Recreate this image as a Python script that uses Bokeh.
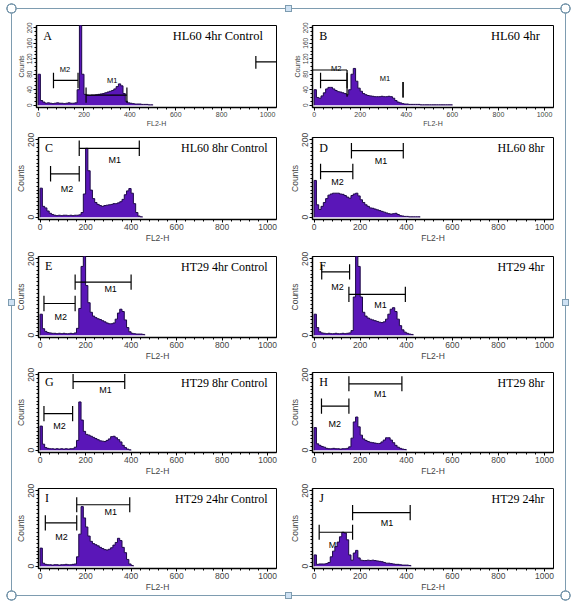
import numpy as np
from bokeh.plotting import figure
from bokeh.layouts import column, row
from bokeh.models import FixedTicker, Range1d
from bokeh.core.properties import value
from bokeh.embed import file_html
from bokeh.resources import INLINE

# ---------------- data ----------------
BIN_WIDTH = 10  # FL2-H channels per histogram bin

x_ticks = [0, 200, 400, 600, 800, 1000]
x_minor = [40, 80, 120, 160, 240, 280, 320, 360, 440, 480, 520, 560,
           640, 680, 720, 760, 840, 880, 920, 960, 1040]
y_ticks_fine = [0, 200]
y_ticks_coarse = [0, 40, 80, 120, 160, 200]
y_minor = [10, 20, 30, 40, 50, 60, 70, 80, 90, 100, 110, 120, 130, 140, 150, 160, 170, 180, 190]

letters = ["A", "B", "C", "D", "E", "F", "G", "H", "I", "J"]
titles = ["HL60 4hr Control", "HL60 4hr", "HL60 8hr Control", "HL60 8hr",
          "HT29 4hr Control", "HT29 4hr", "HT29 8hr Control", "HT29 8hr",
          "HT29 24hr Control", "HT29 24hr"]

counts_A = [80, 12, 8, 5, 6, 5, 4, 5, 6, 5, 5, 4, 5, 6, 5, 5, 6, 40, 240, 80,
            28, 26, 25, 26, 26, 27, 28, 29, 30, 32, 34, 36, 38, 42, 48, 55, 50, 30, 10, 6,
            5, 4, 3, 3, 3, 2, 2, 2, 1, 1]
counts_B = [40, 20, 18, 24, 32, 42, 46, 46, 42, 38, 35, 34, 32, 30, 27, 40, 80, 95, 62, 44,
            36, 30, 27, 25, 24, 23, 22, 22, 22, 23, 22, 22, 23, 22, 18, 12, 8, 6, 4, 3,
            3, 2, 2, 2, 2, 2, 1, 1, 1, 1, 1, 1, 1, 1, 1, 1, 1, 1, 1, 1]
counts_C = [75, 28, 24, 16, 10, 7, 5, 4, 5, 4, 5, 5, 4, 5, 4, 5, 5, 6, 12, 60,
            178, 120, 70, 48, 38, 33, 30, 28, 30, 31, 32, 33, 35, 35, 37, 40, 46, 58, 68, 74,
            62, 35, 12, 3, 1]
counts_D = [95, 32, 20, 28, 38, 48, 57, 60, 62, 62, 62, 60, 59, 56, 52, 49, 56, 60, 62, 55,
            45, 38, 32, 28, 24, 23, 21, 19, 17, 15, 13, 11, 9, 8, 9, 10, 7, 4, 3, 2,
            2, 1, 1, 1, 1, 1]
counts_E = [55, 17, 10, 7, 6, 5, 5, 4, 5, 4, 5, 4, 4, 5, 4, 6, 18, 70, 180, 215,
            130, 85, 60, 50, 46, 43, 41, 38, 35, 32, 30, 30, 32, 42, 58, 68, 62, 40, 20, 9,
            5, 4, 3, 3, 3, 2]
counts_F = [55, 20, 9, 6, 5, 4, 5, 4, 4, 5, 4, 4, 5, 4, 5, 6, 12, 100, 215, 180,
            100, 60, 50, 45, 42, 40, 38, 36, 34, 33, 35, 42, 55, 68, 72, 62, 42, 25, 14, 8,
            5, 3, 2]
counts_G = [64, 16, 7, 5, 4, 4, 3, 4, 3, 4, 3, 4, 3, 4, 4, 8, 26, 128, 80, 50,
            42, 40, 37, 34, 31, 28, 25, 24, 23, 26, 30, 36, 37, 33, 28, 22, 13, 7, 3, 1]
counts_H = [60, 17, 13, 10, 8, 5, 4, 4, 5, 4, 4, 3, 4, 4, 5, 9, 32, 75, 88, 62,
            40, 30, 26, 23, 21, 20, 19, 18, 18, 22, 27, 33, 33, 27, 20, 13, 8, 5, 3, 2]
counts_I = [48, 8, 5, 4, 4, 3, 4, 4, 3, 4, 4, 5, 4, 4, 5, 6, 25, 85, 158, 128,
            104, 80, 66, 60, 57, 54, 50, 47, 44, 43, 45, 49, 56, 63, 74, 68, 50, 36, 18, 6, 2]
counts_J = [30, 5, 6, 6, 6, 7, 10, 25, 40, 52, 64, 78, 90, 88, 70, 30, 16, 35, 42, 22,
            16, 15, 15, 16, 15, 16, 15, 14, 13, 12, 10, 8, 8, 7, 6, 5, 5, 4, 3, 3, 3, 2]

# gates: (label, start channel, end channel, level, label channel, label level)
gates_A = [("M1", 209, 387, 26, 323, 64), ("M2", 67, 174, 64, 117, 92)]
gates_B = [("M2", 28, 143, 64, 96, 95), ("M1", 386, 386, 40, 308, 69)]
gates_C = [("M1", 172, 436, 178, 328, 147), ("M2", 46, 172, 112, 118, 73)]
gates_D = [("M1", 162, 387, 172, 290, 146), ("M2", 28, 168, 118, 101, 92)]
gates_E = [("M1", 154, 400, 139, 310, 121), ("M2", 17, 154, 83, 91, 47)]
gates_F = [("M2", 33, 154, 166, 101, 125), ("M1", 151, 396, 107, 288, 78)]
gates_G = [("M1", 145, 372, 182, 288, 160), ("M2", 17, 143, 97, 85, 64)]
gates_H = [("M1", 151, 381, 176, 287, 149), ("M2", 32, 151, 117, 90, 70)]
gates_I = [("M1", 161, 394, 163, 311, 143), ("M2", 23, 161, 115, 94, 77)]
gates_J = [("M1", 167, 417, 142, 316, 115), ("M2", 22, 167, 90, 91, 57)]

# stray marker lines (x0, y0, x1, y1) visible in the two top panels
extra_A = [(949, 112, 1100, 112), (949, 94, 949, 127)]
extra_B = [(-100, 91, 143, 91), (143, 22, 143, 91)]

all_counts = [counts_A, counts_B, counts_C, counts_D, counts_E,
              counts_F, counts_G, counts_H, counts_I, counts_J]
all_gates = [gates_A, gates_B, gates_C, gates_D, gates_E,
             gates_F, gates_G, gates_H, gates_I, gates_J]
all_extra = [extra_A, extra_B] + [[] for _ in range(8)]

# ---------------- style ----------------
FILL = "#5a16b8"
EDGE = "#1c0848"
SANS = "Liberation Sans"
SERIF = "Liberation Serif"
TICK_HALF = 20
FRAME_COLOR = "#7e9cb0"

# layout geometry
row_borders = [(16, 21), (8, 24), (11, 24), (9, 24), (10, 27)]
row_heights = [120, 116, 118, 115, 117]
col_widths = [272, 281]
col_left = [24, 28]
col_right = [8, 12]


def make_panel(i):
    r, c = divmod(i, 2)
    top, bottom = row_borders[r]
    coarse = r == 0
    p = figure(width=col_widths[c], height=row_heights[r],
               x_range=Range1d(-7, 1039), y_range=Range1d(-6, 206),
               output_backend="svg", toolbar_location=None,
               min_border_left=col_left[c], min_border_right=col_right[c],
               min_border_top=top, min_border_bottom=bottom)
    p.xgrid.visible = False
    p.ygrid.visible = False
    p.outline_line_color = "black"
    p.outline_line_alpha = 1.0
    p.outline_line_width = 1
    p.background_fill_color = "white"
    p.border_fill_color = "white"

    lbl_size = "7px" if coarse else "8.5px"
    xa = p.xaxis[0]
    xa.ticker = FixedTicker(ticks=x_ticks, minor_ticks=x_minor)
    xa.axis_label = "FL2-H"
    xa.axis_label_text_font = SANS
    xa.axis_label_text_font_style = "normal"
    xa.axis_label_text_font_size = lbl_size
    xa.axis_label_standoff = 0
    xa.major_label_text_font = SANS
    xa.major_label_text_font_size = lbl_size
    xa.major_label_standoff = 1
    xa.major_tick_in = 0
    xa.major_tick_out = 3
    xa.minor_tick_in = 0
    xa.minor_tick_out = 2
    xa.axis_line_width = 1.5

    ya = p.yaxis[0]
    ya.ticker = FixedTicker(ticks=y_ticks_coarse if coarse else y_ticks_fine,
                            minor_ticks=y_minor)
    ya.axis_label = "Counts"
    ya.axis_label_text_font = SANS
    ya.axis_label_text_font_style = "normal"
    ya.axis_label_text_font_size = "7px" if coarse else "8.5px"
    ya.axis_label_standoff = 0
    ya.major_label_orientation = "vertical"
    ya.major_label_text_font = SANS
    ya.major_label_text_font_size = "6.5px" if coarse else "8.5px"
    ya.major_label_standoff = 1
    ya.major_tick_in = 0
    ya.major_tick_out = 3
    ya.minor_tick_in = 0
    ya.minor_tick_out = 2
    ya.axis_line_width = 1.5

    counts = np.asarray(all_counts[i], dtype=float)
    gates = all_gates[i]

    # gate labels (drawn below the histogram)
    p.text(x=[g[4] for g in gates], y=[g[5] for g in gates], text=[g[0] for g in gates],
           text_font=value(SANS), text_font_size="7.5px" if coarse else "9px",
           text_align="center", text_baseline="middle", text_color="black")

    # histogram
    edges = np.arange(len(counts) + 1) * BIN_WIDTH
    xs = np.concatenate([[edges[0]], np.repeat(edges, 2)[1:-1], [edges[-1]]])
    ys = np.concatenate([[0.0], np.repeat(counts, 2), [0.0]])
    p.varea(x=xs, y1=0, y2=ys, fill_color=FILL)
    p.line(xs, ys, line_color=EDGE, line_width=1)

    # gate brackets
    g0 = [g[1] for g in gates]
    g1 = [g[2] for g in gates]
    gy = np.array([g[3] for g in gates], dtype=float)
    p.segment(x0=g0, y0=gy, x1=g1, y1=gy, line_color="black", line_width=1.2)
    p.segment(x0=g0, y0=gy - TICK_HALF, x1=g0, y1=gy + TICK_HALF, line_color="black", line_width=1.2)
    p.segment(x0=g1, y0=gy - TICK_HALF, x1=g1, y1=gy + TICK_HALF, line_color="black", line_width=1.2)
    ex = all_extra[i]
    if ex:
        p.segment(x0=[e[0] for e in ex], y0=[e[1] for e in ex],
                  x1=[e[2] for e in ex], y1=[e[3] for e in ex],
                  line_color="black", line_width=1.2)

    # panel letter and title
    p.text(x=[22], y=[180], text=[letters[i]], text_font=value(SERIF),
           text_font_size="12px", text_align="left", text_baseline="middle", text_color="black")
    p.text(x=[980 if coarse else 1000], y=[178], text=[titles[i]], text_font=value(SERIF),
           text_font_size="12.5px" if coarse else "12px", text_align="right",
           text_baseline="middle", text_color="black")
    return p


panels = [make_panel(i) for i in range(10)]
rows = [row(panels[2 * r], panels[2 * r + 1], spacing=0) for r in range(5)]

# selection-frame handles drawn over the whole picture
handle_css = f"""
:host {{ position: relative; }}
:host::after {{
  content: "";
  position: absolute;
  left: -6px; top: -6px;
  width: calc(100% + 12px); height: calc(100% + 12px);
  pointer-events: none;
  z-index: 50;
  background:
    linear-gradient(#cfe2f4, #cfe2f4) left 50% top 3px / 5px 5px no-repeat,
    linear-gradient(#cfe2f4, #cfe2f4) left 50% bottom 3px / 5px 5px no-repeat,
    linear-gradient(#cfe2f4, #cfe2f4) left 3px top 50% / 5px 5px no-repeat,
    linear-gradient(#cfe2f4, #cfe2f4) right 3px top 50% / 5px 5px no-repeat,
    linear-gradient({FRAME_COLOR}, {FRAME_COLOR}) left 50% top 2px / 7px 7px no-repeat,
    linear-gradient({FRAME_COLOR}, {FRAME_COLOR}) left 50% bottom 2px / 7px 7px no-repeat,
    linear-gradient({FRAME_COLOR}, {FRAME_COLOR}) left 2px top 50% / 7px 7px no-repeat,
    linear-gradient({FRAME_COLOR}, {FRAME_COLOR}) right 2px top 50% / 7px 7px no-repeat,
    radial-gradient(circle closest-side, #fff 68%, {FRAME_COLOR} 74%, {FRAME_COLOR} 90%, transparent 100%) left 0 top 0 / 11px 11px no-repeat,
    radial-gradient(circle closest-side, #fff 68%, {FRAME_COLOR} 74%, {FRAME_COLOR} 90%, transparent 100%) right 0 top 0 / 11px 11px no-repeat,
    radial-gradient(circle closest-side, #fff 68%, {FRAME_COLOR} 74%, {FRAME_COLOR} 90%, transparent 100%) left 0 bottom 0 / 11px 11px no-repeat,
    radial-gradient(circle closest-side, #fff 68%, {FRAME_COLOR} 74%, {FRAME_COLOR} 90%, transparent 100%) right 0 bottom 0 / 11px 11px no-repeat;
}}
"""

layout = column(*rows, spacing=0, margin=(9, 0, 0, 12),
                styles={"outline": f"1px solid {FRAME_COLOR}", "outline-offset": "0px"},
                stylesheets=[handle_css])

open("out.html", "w").write(file_html(layout, INLINE))
